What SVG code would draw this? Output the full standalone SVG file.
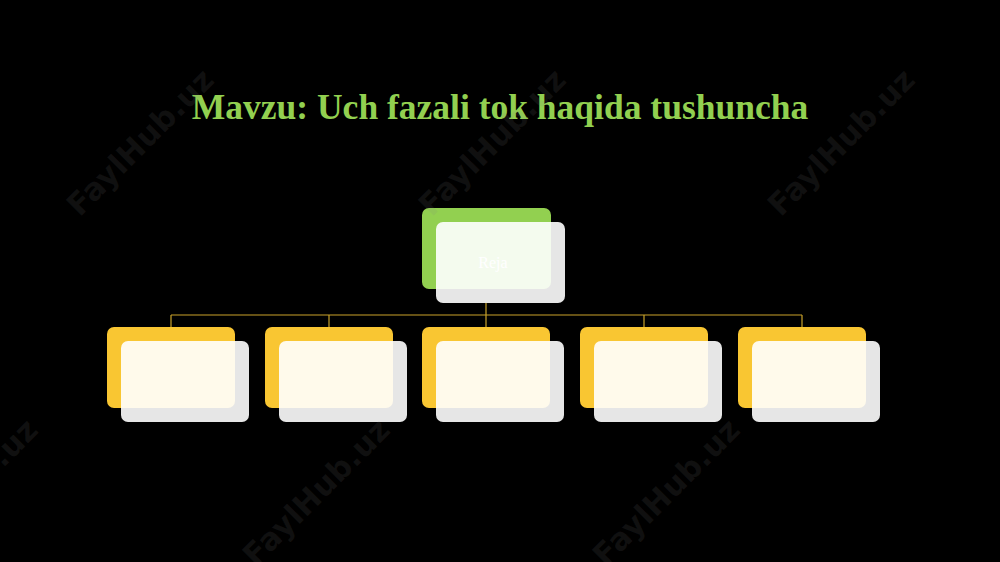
<svg xmlns="http://www.w3.org/2000/svg" width="1000" height="562" viewBox="0 0 1000 562">
  <defs>
    <style>
      .title { font-family: "Liberation Serif", "Times New Roman", serif; font-weight: bold; font-size: 35.5px; fill: #92d050; }
      .back-green { fill: #92d050; }
      .back-yellow { fill: #f9c632; }
      .front { fill: #ffffff; fill-opacity: 0.9; }
      .label { font-family: "Liberation Serif", "Times New Roman", serif; font-size: 16px; fill: #ffffff; }
      .conn { stroke: #c9a22a; stroke-width: 1.2; fill: none; }
      .wm { font-family: "DejaVu Sans", "Liberation Sans", sans-serif; font-weight: bold; font-size: 31px; fill: #808080; fill-opacity: 0.12; }
    </style>
  </defs>
  <rect x="0" y="0" width="1000" height="562" fill="#000000"/>

  <text class="title" x="500" y="119" text-anchor="middle">Mavzu: Uch fazali tok haqida tushuncha</text>

  <g id="connectors">
    <path class="conn" d="M486 303 V315 M171 315 H802 M171 315 V327 M329 315 V327 M486 315 V327 M644 315 V327 M802 315 V327"/>
  </g>

  <g id="node-root">
    <rect class="back-green" x="422" y="208" width="129" height="81" rx="7"/>
    <rect class="front" x="436" y="222" width="129" height="81" rx="7"/>
    <text class="label" x="493" y="268" text-anchor="middle">Reja</text>
  </g>

  <g id="node-1">
    <rect class="back-yellow" x="107" y="327" width="128" height="81" rx="7"/>
    <rect class="front" x="121" y="341" width="128" height="81" rx="7"/>
  </g>
  <g id="node-2">
    <rect class="back-yellow" x="265" y="327" width="128" height="81" rx="7"/>
    <rect class="front" x="279" y="341" width="128" height="81" rx="7"/>
  </g>
  <g id="node-3">
    <rect class="back-yellow" x="422" y="327" width="128" height="81" rx="7"/>
    <rect class="front" x="436" y="341" width="128" height="81" rx="7"/>
  </g>
  <g id="node-4">
    <rect class="back-yellow" x="580" y="327" width="128" height="81" rx="7"/>
    <rect class="front" x="594" y="341" width="128" height="81" rx="7"/>
  </g>
  <g id="node-5">
    <rect class="back-yellow" x="738" y="327" width="128" height="81" rx="7"/>
    <rect class="front" x="752" y="341" width="128" height="81" rx="7"/>
  </g>

  <g id="watermarks">
    <text class="wm" text-anchor="middle" dominant-baseline="central" transform="translate(140 142) rotate(-45)">FaylHub.uz</text>
    <text class="wm" text-anchor="middle" dominant-baseline="central" transform="translate(492 142) rotate(-45)">FaylHub.uz</text>
    <text class="wm" text-anchor="middle" dominant-baseline="central" transform="translate(841 142) rotate(-45)">FaylHub.uz</text>
    <text class="wm" text-anchor="middle" dominant-baseline="central" transform="translate(-36 492) rotate(-45)">FaylHub.uz</text>
    <text class="wm" text-anchor="middle" dominant-baseline="central" transform="translate(316 492) rotate(-45)">FaylHub.uz</text>
    <text class="wm" text-anchor="middle" dominant-baseline="central" transform="translate(666 492) rotate(-45)">FaylHub.uz</text>
  </g>
</svg>
